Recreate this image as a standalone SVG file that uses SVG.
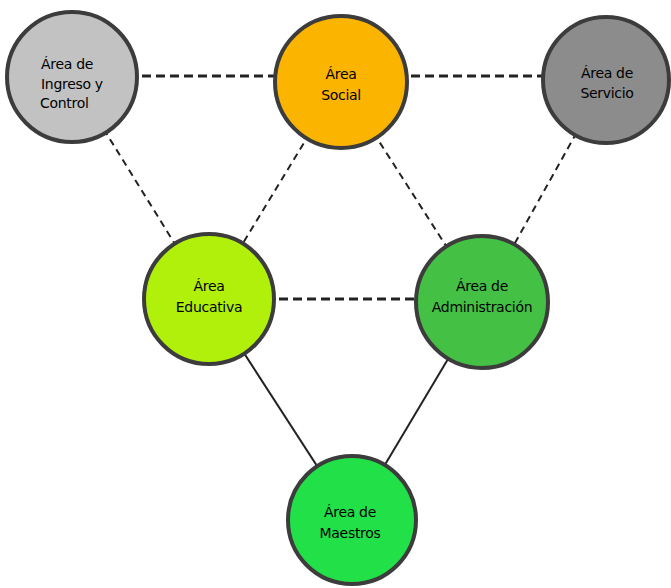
<svg xmlns="http://www.w3.org/2000/svg" width="671" height="588" viewBox="0 0 671 588">
<style>
.n{stroke:#3c3c3c;stroke-width:4}
.t{font-family:"DejaVu Sans",sans-serif;font-size:14px;fill:#000;text-anchor:middle;letter-spacing:-0.3px}
.l{text-anchor:start}
.h{stroke:#222;stroke-width:3;stroke-dasharray:9 5;fill:none}
.d{stroke:#222;stroke-width:2;stroke-dasharray:7 5;fill:none}
.s{stroke:#222;stroke-width:2;fill:none}
</style>
<rect width="671" height="588" fill="#fff"/>
<g id="connectors">
<line class="h" x1="72" y1="76" x2="341" y2="76"/>
<line class="h" x1="341" y1="76" x2="606" y2="76"/>
<line class="h" x1="209" y1="299" x2="482" y2="299"/>
<line class="d" x1="72" y1="78" x2="209" y2="299"/>
<line class="d" x1="341" y1="82" x2="209" y2="299"/>
<line class="d" x1="341" y1="82" x2="482" y2="302"/>
<line class="d" x1="606" y1="80" x2="482" y2="302"/>
<line class="s" x1="209" y1="299" x2="352" y2="520"/>
<line class="s" x1="482" y1="302" x2="352" y2="520"/>
</g>
<g id="ingreso">
<circle class="n" cx="72" cy="77" r="65" fill="#c2c2c2"/>
<text class="t l" x="41" y="69">Área de</text>
<text class="t l" x="41" y="89">Ingreso y</text>
<text class="t l" x="40" y="108">Control</text>
</g>
<g id="social">
<circle class="n" cx="341" cy="82" r="66" fill="#fbb400"/>
<text class="t" x="341" y="79">Área</text>
<text class="t" x="341" y="100">Social</text>
</g>
<g id="servicio">
<circle class="n" cx="606" cy="80" r="63" fill="#8c8c8c"/>
<text class="t" x="607" y="78">Área de</text>
<text class="t" x="607" y="98">Servicio</text>
</g>
<g id="educativa">
<circle class="n" cx="209" cy="299" r="65" fill="#b0f00a"/>
<text class="t" x="209" y="291">Área</text>
<text class="t" x="209" y="312">Educativa</text>
</g>
<g id="administracion">
<circle class="n" cx="482" cy="302" r="66" fill="#44c044"/>
<text class="t" x="482" y="291">Área de</text>
<text class="t" x="482" y="312">Administración</text>
</g>
<g id="maestros">
<circle class="n" cx="352" cy="520" r="64" fill="#22e048"/>
<text class="t" x="350" y="517">Área de</text>
<text class="t" x="350" y="538">Maestros</text>
</g>
</svg>
